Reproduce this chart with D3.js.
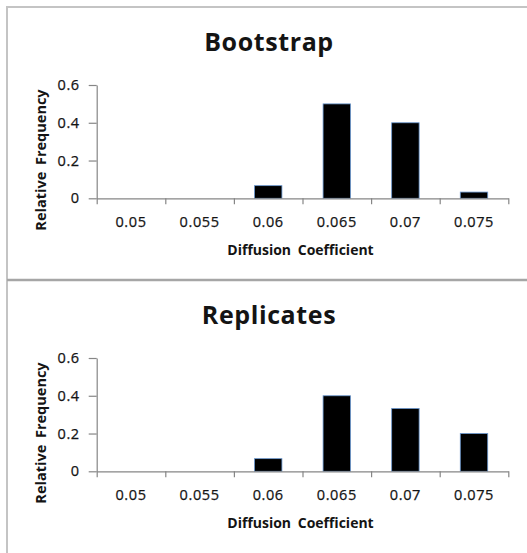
<!DOCTYPE html>
<html>
<head>
<meta charset="utf-8">
<script src="https://cdn.jsdelivr.net/npm/d3@7"></script>
<style>
  body { margin: 0; background: #fff; }
</style>
</head>
<body>
<script>
// data
var categories = ["0.05", "0.055", "0.06", "0.065", "0.07", "0.075"];
var bootstrapFreq = [0, 0, 0.067, 0.5, 0.4, 0.033];
var replicateFreq = [0, 0, 0.067, 0.4, 0.333, 0.2];
var yTicks = [0, 0.2, 0.4, 0.6];
var titles = ["Bootstrap", "Replicates"];

// General Settings
var W = 527, H = 553,
    plot = {left: 96.7, right: 508.3, top: 85, bottom: 198.3},
    panelOffset = 273,
    font = {family: "'Open Sans', sans-serif"},
    col = {axis: "#868686", text: "#141414", bar: "#000", barEdge: "#6a97cf", frame: "#c4c4c4", divider: "#a6a6a6"};

var svg = d3.select("body")
    .append("svg")
    .attr("width", W)
    .attr("height", H)
    .style("display", "block");

svg.append("rect").attr("width", W).attr("height", H).attr("fill", "#fff");

// panel frames
svg.append("line").attr("x1", 7).attr("x2", W).attr("y1", 7).attr("y2", 7)
    .attr("stroke", col.frame).attr("stroke-width", 2);
svg.append("line").attr("x1", 7).attr("x2", 7).attr("y1", 6).attr("y2", H)
    .attr("stroke", col.frame).attr("stroke-width", 2);
svg.append("line").attr("x1", 7).attr("x2", W).attr("y1", 280).attr("y2", 280)
    .attr("stroke", col.divider).attr("stroke-width", 2.5);

function drawPanel(dy, title, values) {
    var g = svg.append("g").attr("transform", "translate(0," + dy + ")");

    var x = d3.scaleBand()
        .domain(categories)
        .range([plot.left, plot.right])
        .paddingInner(0.6)
        .paddingOuter(0.3);
    var xEdges = d3.scaleLinear()
        .domain([0, categories.length])
        .range([plot.left, plot.right]);
    var y = d3.scaleLinear()
        .domain([0, 0.6])
        .range([plot.bottom, plot.top]);

    // title
    g.append("text")
        .attr("x", 269)
        .attr("y", 51)
        .attr("text-anchor", "middle")
        .attr("font-family", font.family)
        .attr("font-weight", "bold")
        .attr("font-size", "25px")
        .attr("letter-spacing", "0.6px")
        .attr("fill", col.text)
        .text(title);

    // bars
    g.selectAll(".bar")
        .data(values.map(function(v, i) { return {cat: categories[i], v: v}; }).filter(function(d) { return d.v > 0; }))
        .enter()
        .append("rect")
            .attr("class", "bar")
            .attr("x", function(d) { return x(d.cat); })
            .attr("y", function(d) { return y(d.v); })
            .attr("width", x.bandwidth())
            .attr("height", function(d) { return y(0) - y(d.v); })
            .attr("fill", col.bar)
            .attr("stroke", col.barEdge)
            .attr("stroke-width", 0.8);

    // Y axis
    var yAxis = g.append("g")
        .attr("transform", "translate(" + plot.left + ",0)")
        .call(d3.axisLeft(y).tickValues(yTicks).tickFormat(function(d) { return d === 0 ? "0" : d3.format(".1f")(d); })
            .tickSize(8).tickSizeOuter(0).tickPadding(9));

    // X axis: tick marks on category edges
    var xAxis = g.append("g")
        .attr("transform", "translate(0," + plot.bottom + ")")
        .call(d3.axisBottom(xEdges).tickValues(d3.range(categories.length + 1)).tickFormat("")
            .tickSize(6).tickSizeOuter(0));

    // X labels centred in categories
    var xLabels = g.append("g")
        .attr("transform", "translate(0," + plot.bottom + ")")
        .call(d3.axisBottom(x).tickSize(0).tickPadding(18));
    xLabels.select(".domain").remove();

    [yAxis, xAxis].forEach(function(a) {
        a.selectAll("path, line").attr("stroke", col.axis).attr("stroke-width", 1.2);
    });
    g.selectAll(".tick text")
        .attr("font-family", font.family)
        .attr("font-size", "14.5px")
        .attr("letter-spacing", "0.6px")
        .attr("stroke", col.text)
        .attr("stroke-width", 0.25)
        .attr("fill", col.text);

    // axis titles
    g.append("text")
        .attr("x", 300.5)
        .attr("y", 255)
        .attr("text-anchor", "middle")
        .attr("font-family", font.family)
        .attr("font-weight", "bold")
        .attr("font-size", "14px")
        .attr("word-spacing", "3px")
        .attr("fill", col.text)
        .text("Diffusion Coefficient");

    g.append("text")
        .attr("transform", "translate(46,160) rotate(-90)")
        .attr("text-anchor", "middle")
        .attr("font-family", font.family)
        .attr("font-weight", "bold")
        .attr("font-size", "14.5px")
        .attr("word-spacing", "3px")
        .attr("fill", col.text)
        .text("Relative Frequency");
}

drawPanel(0, titles[0], bootstrapFreq);
drawPanel(panelOffset, titles[1], replicateFreq);
</script>
</body>
</html>
